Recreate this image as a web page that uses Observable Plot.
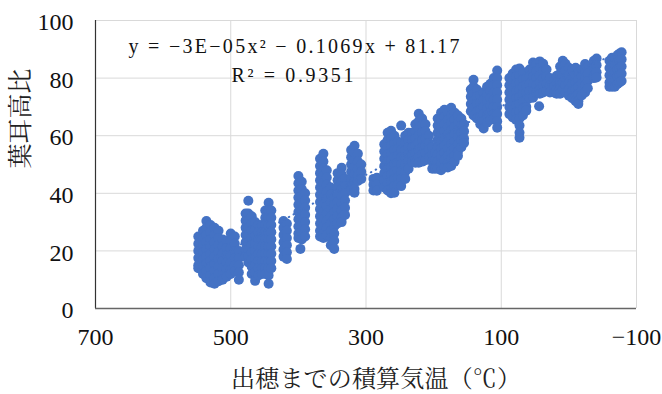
<!DOCTYPE html>
<html><head><meta charset="utf-8">
<script src="https://cdn.jsdelivr.net/npm/d3@7"></script>
<script src="https://cdn.jsdelivr.net/npm/@observablehq/plot@0.6"></script>
<style>
body{margin:0;background:#fff}
</style>
</head><body><div id="chart"></div>
<script>
const xTicks = [700, 500, 300, 100, -100];
const yTicks = [0, 20, 40, 60, 80, 100];

const columnX = [548, 541, 536, 530, 524, 518, 512, 506, 500, 494, 488,
  478, 474, 469, 464, 459, 454, 449, 444, 440,
  422, 417,
  400, 397, 395, 390,
  368, 363, 358, 352, 347, 342, 336, 331,
  322, 317, 312, 307,
  289, 284,
  273, 268, 263, 258, 253, 248,
  242, 237, 232, 227, 222, 217, 212, 207, 202, 198,
  194, 189, 184, 179, 174, 169, 164, 159, 155,
  145, 141, 136, 131, 126, 121, 116, 111, 106,
  88, 83, 78, 73, 68, 63, 58, 53, 48, 44, 43, 38, 33, 28,
  22, 18, 13, 9, 5, 0, -5, -10, -14, -19, -24, -28,
  -37, -41,
  -60, -64, -68, -72, -75, -78];

const columnY = [
  [25, 22.5, 20, 17.5, 15, 14],
  [27, 24.5, 22, 19.5, 17, 14.5, 12],
  [30.4, 28, 25.5, 23, 20.5, 18, 15.5, 13, 10.5],
  [29, 26.5, 24, 21.5, 19, 16.5, 14, 11.5, 9],
  [28, 25.5, 23, 20.5, 18, 15.5, 13, 10.5, 8.6],
  [27, 24.5, 22, 19.5, 17, 14.5, 12, 9.5],
  [24, 21.5, 19, 16.5, 14, 11.5, 10],
  [23.4, 21, 18.5, 16, 13.5, 11],
  [26, 23.5, 21, 18.5, 16, 13.5, 12],
  [25, 22.5, 20, 17.5, 15, 13],
  [20, 17.5, 15, 12.5, 10],

  [33, 30.5, 28, 25.5, 23, 20.5, 18],
  [37.4, 33, 30.5, 28, 25.5, 23, 20.5, 18, 16],
  [32, 29.5, 27, 24.5, 22, 19.5, 17, 14.5, 12],
  [30, 27.5, 25, 22.5, 20, 17.5, 15, 12.5, 9.6],
  [29, 26.5, 24, 21.5, 19, 16.5, 14, 11.5],
  [29, 26.5, 24, 21.5, 19, 16.5, 14, 12],
  [34, 31.5, 29, 26.5, 24, 21.5, 19, 16.5, 14, 12],
  [36.7, 34, 31.5, 29, 26.5, 24, 21.5, 19, 16.5, 14, 11.5, 8.6],
  [34, 31.5, 29, 26.5, 24, 21.5, 19, 16.5, 14],

  [30.4, 28, 25.5, 23, 20.5, 18],
  [29.4, 27, 24.5, 22, 19.5, 17.2],

  [46, 43.5, 41, 38.5, 36, 33.5, 31, 28.5, 26, 24.5],
  [20.7],
  [44, 41.5, 39, 36.5, 34, 31.5, 29, 26.5, 24],
  [40, 37.5, 35, 32.5, 30, 27.5, 25],

  [52, 49.5, 47, 44.5, 42, 39.5, 37, 34.5, 32, 29.5, 27, 25],
  [53.7, 51, 48.5, 46, 43.5, 41, 38.5, 36, 33.5, 31, 28.5, 26, 24.5],
  [48, 45.5, 43, 40.5, 38, 35.5, 33, 30.5, 28, 25.5],
  [42, 39.5, 37, 34.5, 32, 29.5, 27, 24.5, 22],
  [38.4, 36, 33.5, 31, 28.5, 26, 23.5, 20.7],
  [47, 44.5, 42, 39.5, 37, 34.5, 32, 29.5],
  [48.9, 46.5, 44, 41.5, 39, 36.5, 34, 31.5, 30],
  [45, 42.5, 40, 37.5, 35, 32.5],

  [55, 52.5, 50, 47.5, 45, 42.5, 41],
  [56.5, 54, 51.5, 49, 46.5, 44, 41.5, 40.2],
  [53.7, 51, 48.5, 46, 44.3],
  [50, 47.5, 45],

  [45, 43, 41],
  [45.4, 43, 40.9],

  [57, 54.5, 52, 49.5, 47, 44.5, 42],
  [61, 58.5, 56, 53.5, 51, 48.5, 46, 43.5, 41],
  [61.7, 59, 56.5, 54, 51.5, 49, 46.5, 44, 41.5, 40],
  [60, 57.5, 55, 52.5, 50, 47.5, 45, 42.5, 40.2],
  [58, 55.5, 53, 50.5, 48, 45.5, 43],
  [63.5, 57.5, 55, 52.5, 50, 47.5, 45, 42.5],

  [60, 57.5, 55, 52.5, 50, 47.5, 45],
  [61, 58.5, 56, 53.5, 51, 48.5],
  [61, 58.5, 56, 53.5, 51],
  [64, 61.5, 59, 56.5, 54, 51.5, 50.6],
  [67.6, 65, 62.5, 60, 57.5, 55, 52.5, 50.6],
  [66, 63.5, 61, 58.5, 56, 53.5, 51],
  [64, 61.5, 59, 56.5, 54, 51.5],
  [60, 57.5, 55, 52.5],
  [56, 53.5, 51, 48.5],
  [54, 51.5, 48.5],

  [66, 63.5, 61, 58.5, 56, 53.5, 51, 48.5],
  [68, 65.5, 63, 60.5, 58, 55.5, 53, 50.5, 48],
  [69, 66.5, 64, 61.5, 59, 56.5, 54, 51.5, 49],
  [68, 65.5, 63, 60.5, 58, 55.5, 53, 50.5, 49],
  [69.7, 67, 64.5, 62, 59.5, 57, 54.5, 52, 49.5],
  [68, 65.5, 63, 60.5, 58, 55.5, 53, 51],
  [67, 64.5, 62, 59.5, 57, 54.5, 53],
  [66, 63.5, 61, 58.5, 56],
  [64, 61.5, 59, 57.5],

  [76, 73.5, 71, 68.5],
  [79.4, 77, 74.5, 72, 69.5, 67],
  [76, 73.5, 71, 68.5, 66],
  [74, 71.5, 69, 66.5, 64],
  [75, 72.5, 70, 67.5, 65, 62.5],
  [77, 74.5, 72, 69.5, 67, 64.5],
  [78, 75.5, 73, 70.5, 68, 65.5],
  [80, 77.5, 75, 72.5, 70, 67.5, 66],
  [82.6, 80, 77.5, 75, 72.5, 70, 67.5, 65, 62.8],

  [80, 77.5, 75, 72.5, 70, 67.5],
  [81.6, 79, 76.5, 74, 71.5, 69, 66.3],
  [83, 80.5, 78, 75.5, 73, 70.5, 68, 65.5],
  [83.3, 81, 78.5, 76, 73.5, 71, 68.5, 66, 63.5, 61, 59.3],
  [82, 79.5, 77, 74.5, 72, 69.5, 67],
  [80, 77.5, 75, 72.5, 70, 68.7],
  [83, 80.5, 78, 75.5, 73],
  [85.4, 83, 80.5, 78, 75.5, 73.2],
  [85, 82.5, 80, 77.5, 75],
  [70.2],
  [85.8, 83.5, 81, 78.5, 76, 74.6],
  [85, 82.5, 80, 77.5, 75],
  [83, 80.5, 78, 75.5],
  [80, 77.5, 75],

  [79, 77, 75],
  [80.8, 78.5, 76, 74.6],
  [84, 81.5, 79, 76.5, 74.6],
  [86, 83.5, 81, 78.5, 76],
  [85, 82.5, 80, 77.5, 75],
  [83.6, 81, 78.5, 76, 73.9],
  [83, 80.5, 78, 75.5, 73],
  [83.6, 81, 78.5, 76, 73.5, 72],
  [82, 79.5, 77, 74.5, 72, 71],
  [83, 80.5, 78, 75.5, 74],
  [84.9, 82.5, 80, 77.5, 75],
  [84, 81.5, 79, 76.5],

  [86, 83.5, 81, 80],
  [86.8, 84.5, 82, 80.2],

  [86, 83.5, 81, 78.5, 77],
  [87.1, 84.5, 82, 79.5, 77],
  [87, 84.5, 82, 79.5, 77],
  [88, 85.5, 83, 80.5, 78],
  [88.5, 86, 83.5, 81, 78.5],
  [89, 86.5, 84, 81.5, 79]
];

const trendCoef = [-3e-5, -0.1069, 81.17];
const trendX = [548, 520, 500, 480, 460, 440, 420, 400, 380, 360, 340, 320, 300, 280, 260, 240, 220, 200, 180, 160, 140, 120, 100, 80, 60, 40, 20, 0, -20, -40, -60, -78];

const equationLines = ["y = −3E−05x² − 0.1069x + 81.17", "R² = 0.9351"];
const xTitle = "出穂までの積算気温（℃）";
const yTitle = "葉耳高比";

const points = columnX.flatMap((x, i) => columnY[i].map(y => ({x, y})));
const trend = trendX.map(x => ({x, y: trendCoef[0] * x * x + trendCoef[1] * x + trendCoef[2]}));

const serif = "'Liberation Serif', serif";
const cjk = "'Noto Serif CJK JP', 'Liberation Serif', serif";

const chart = Plot.plot({
  width: 662,
  height: 394,
  marginLeft: 95,
  marginRight: 26,
  marginTop: 20,
  marginBottom: 86,
  style: {fontSize: "24px", color: "#111", background: "#fff"},
  x: {domain: [700, -100], ticks: xTicks, label: null},
  y: {domain: [0, 100], ticks: yTicks, label: null},
  marks: [
    Plot.gridX(xTicks, {stroke: "#d9d9d9", strokeOpacity: 1}),
    Plot.gridY(yTicks, {stroke: "#d9d9d9", strokeOpacity: 1}),
    Plot.ruleX([700], {stroke: "#333", strokeWidth: 1.2}),
    Plot.ruleY([0], {stroke: "#666", strokeWidth: 1.5}),
    Plot.axisX(xTicks, {tickSize: 0, tickPadding: 19, fontSize: 24, tickFormat: d => d < 0 ? "−" + Math.abs(d) : String(d)}),
    Plot.axisY(yTicks, {tickSize: 0, tickPadding: 22, fontSize: 24, dy: 2}),
    Plot.dot(points, {x: "x", y: "y", r: 5, fill: "#4472C4"}),
    Plot.line(trend, {x: "x", y: "y", stroke: "#4472C4", strokeWidth: 2, strokeDasharray: "0.5,5", strokeLinecap: "round"}),
    Plot.text([equationLines[0]], {frameAnchor: "top-left", textAnchor: "start", lineAnchor: "middle", dx: 33, dy: 26, fontSize: 20, fill: "#111", className: "eq1"}),
    Plot.text([equationLines[1]], {frameAnchor: "top-left", textAnchor: "start", lineAnchor: "middle", dx: 136, dy: 55, fontSize: 20, fill: "#111", className: "eq2"}),
    Plot.text([xTitle], {frameAnchor: "bottom", lineAnchor: "middle", dx: 10, dy: 71, fontSize: 24, fill: "#222", className: "cjkx"}),
    Plot.text([yTitle], {frameAnchor: "left", lineAnchor: "middle", rotate: -90, dx: -75, dy: 4, fontSize: 25, fill: "#222", className: "cjky"})
  ]
});

const root = d3.select(chart);
root.selectAll("text").style("font-family", serif);
root.selectAll(".cjkx text, .cjky text").style("font-family", cjk);
root.selectAll(".cjkx text").attr("textLength", 290).attr("lengthAdjust", "spacing");
root.selectAll(".eq1 text").attr("textLength", 331).attr("lengthAdjust", "spacing");
root.selectAll(".eq2 text").attr("textLength", 122).attr("lengthAdjust", "spacing");

document.getElementById("chart").appendChild(chart);
</script>
</body></html>
